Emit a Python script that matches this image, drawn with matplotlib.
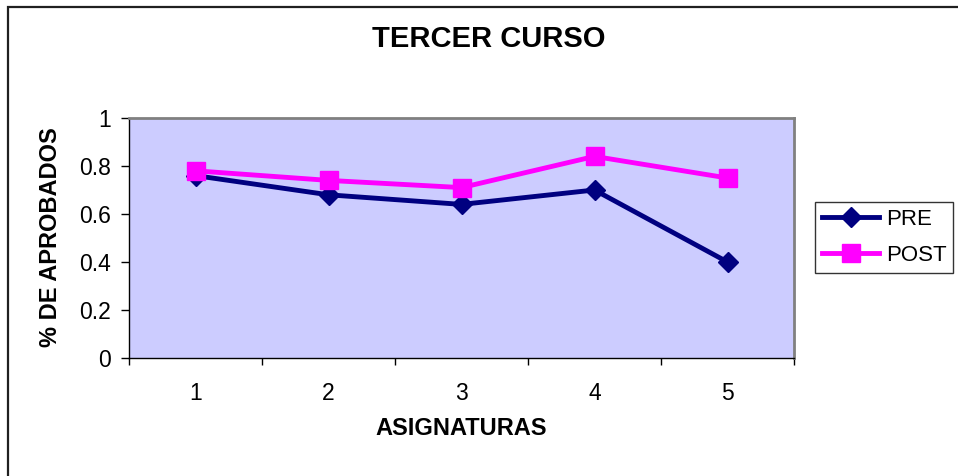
import matplotlib
matplotlib.use("Agg")
import matplotlib.pyplot as plt
from matplotlib.patches import Rectangle

plt.rcParams['font.family'] = ['Liberation Sans', 'DejaVu Sans']

categories = ["1", "2", "3", "4", "5"]
pre = [0.76, 0.68, 0.64, 0.70, 0.40]
post = [0.78, 0.74, 0.71, 0.84, 0.75]
yticks = [0, 0.2, 0.4, 0.6, 0.8, 1]
ytick_labels = ["0", "0.2", "0.4", "0.6", "0.8", "1"]

W, H = 958, 476
fig = plt.figure(figsize=(W/100, H/100), dpi=100)
# outer chart border (right/bottom edges fall outside the picture)
fig.patches.append(Rectangle((8/W, -0.05), 1.1, 1 - 7/H + 0.05, transform=fig.transFigure,
                             fill=False, edgecolor='#202020', linewidth=1.6))

ax = fig.add_axes([129/W, 1-358/H, (794-129)/W, (358-118)/H])
ax.set_facecolor('#CCCCFF')
x = list(range(1, len(categories)+1))
ax.plot(x, pre, color='#000080', linewidth=3.5, marker='D', markersize=10, label='PRE')
ax.plot(x, post, color='#FF00FF', linewidth=3.5, marker='s', markersize=13, label='POST')

ax.set_xlim(0.5, len(categories)+0.5)
ax.set_ylim(0, 1)
ax.set_yticks(yticks)
ax.set_yticklabels(ytick_labels, fontsize=16.5)
ax.set_xticks([i + 0.5 for i in range(0, len(categories)+1)])
ax.set_xticklabels([])
ax.set_xticks(x, minor=True)
ax.set_xticklabels(categories, minor=True, fontsize=16.5)
ax.tick_params(axis='x', which='major', direction='out', length=5, width=1, color='black')
ax.tick_params(axis='x', which='minor', length=0, pad=17)
ax.tick_params(axis='y', direction='out', length=6, width=1, pad=7)

for s in ['top', 'right']:
    ax.spines[s].set_color('#808080')
    ax.spines[s].set_linewidth(2)
for s in ['left', 'bottom']:
    ax.spines[s].set_color('black')
    ax.spines[s].set_linewidth(1)

fig.text(461/W, 1-435/H, 'ASIGNATURAS', fontsize=17, fontweight='bold', ha='center', va='baseline')
fig.text(57/W, 1-237/H, '% DE APROBADOS', fontsize=17, fontweight='bold', ha='center',
         va='baseline', rotation=90, rotation_mode='anchor')
fig.text(489/W, 1-47/H, 'TERCER CURSO', fontsize=21, fontweight='bold', ha='center', va='baseline')

leg = fig.legend(loc='upper left', bbox_to_anchor=(815/W, 1-202/H), frameon=True,
                 fontsize=16, handlelength=2.6, handletextpad=0.3, borderpad=0.3,
                 labelspacing=0.7, fancybox=False, borderaxespad=0)
leg.get_frame().set_edgecolor('black')
leg.get_frame().set_linewidth(1)

fig.savefig('out.png', dpi=100)
